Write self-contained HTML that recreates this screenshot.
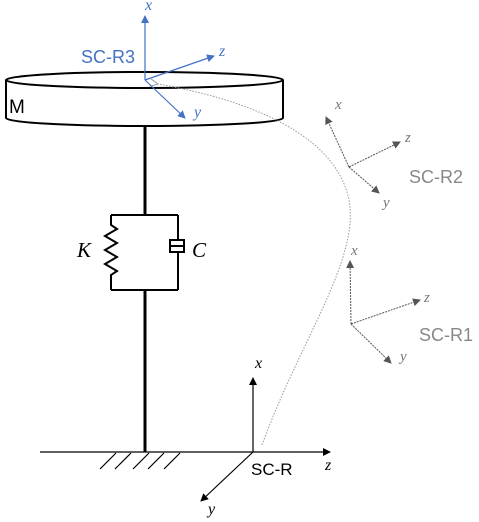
<!DOCTYPE html>
<html><head><meta charset="utf-8"><style>
html,body{margin:0;padding:0;background:#fff;}
svg{display:block;}
.it{font-family:"Liberation Serif",serif;font-style:italic;}
.sa{font-family:"Liberation Sans",sans-serif;}
</style></head><body>
<svg width="479" height="522" viewBox="0 0 479 522">
<defs>
<marker id="ab" markerWidth="8" markerHeight="8" refX="7" refY="4" orient="auto" markerUnits="userSpaceOnUse"><path d="M0,0 L8,4 L0,8 z" fill="#000"/></marker>
<marker id="abl" markerWidth="8" markerHeight="8" refX="7" refY="4" orient="auto" markerUnits="userSpaceOnUse"><path d="M0,0 L8,4 L0,8 z" fill="#4472c4"/></marker>
<marker id="ag" markerWidth="8" markerHeight="8" refX="7" refY="4" orient="auto" markerUnits="userSpaceOnUse"><path d="M0,0 L8,4 L0,8 z" fill="#555"/></marker>
<marker id="al" markerWidth="10" markerHeight="8" refX="1" refY="4" orient="auto" markerUnits="userSpaceOnUse"><path d="M9,0 L1,4 L9,8" fill="none" stroke="#999" stroke-width="1"/></marker>
</defs>
<g fill="#fff" stroke="#000" stroke-width="2">
<path d="M6,80 L6,118 A138,8 0 0 0 283,118 L283,80"/>
<ellipse cx="144.5" cy="80" rx="138.5" ry="8"/>
</g>
<text x="9" y="113" class="sa" font-size="19">M</text>
<line x1="145" y1="126" x2="145" y2="215" stroke="#000" stroke-width="3"/>
<g fill="none" stroke="#000" stroke-width="2">
<path d="M111,215 L178,215 M111,290 L178,290 M111,215 L111,225 L117,229 L105,236 L117,243 L105,250 L117,257 L105,264 L117,271 L111,275 L111,290"/>
<path d="M178,215 L178,240 M178,252 L178,290"/>
<rect x="170" y="240" width="14" height="12"/>
<line x1="170" y1="246" x2="184" y2="246"/>
</g>
<text x="77" y="257" class="it" font-size="21">K</text>
<text x="192" y="257" class="it" font-size="21">C</text>
<line x1="145" y1="290" x2="145" y2="452" stroke="#000" stroke-width="3"/>
<line x1="40" y1="452" x2="253" y2="452" stroke="#000" stroke-width="1.3"/>
<g stroke="#000" stroke-width="1.2">
<line x1="100" y1="469" x2="116" y2="453"/><line x1="115" y1="469" x2="131" y2="453"/><line x1="133" y1="469" x2="149" y2="453"/><line x1="148" y1="469" x2="164" y2="453"/><line x1="164" y1="469" x2="180" y2="453"/>
</g>
<path d="M262,445 C300,340 360,260 349,200 C336,135 250,100 158,84" fill="none" stroke="#999" stroke-width="1" stroke-dasharray="1.5,1.5" marker-end="url(#al)"/>
<g stroke="#000" stroke-width="1.2">
<line x1="253" y1="452" x2="253" y2="378" marker-end="url(#ab)"/>
<line x1="253" y1="452" x2="330" y2="452" marker-end="url(#ab)"/>
<line x1="253" y1="452" x2="201" y2="501" marker-end="url(#ab)"/>
</g>
<text x="255" y="368" class="it" font-size="16">x</text>
<text x="325" y="470" class="it" font-size="16">z</text>
<text x="208" y="514" class="it" font-size="16">y</text>
<text x="251" y="475" class="sa" font-size="17">SC-R</text>
<g stroke="#4472c4" stroke-width="1.2">
<line x1="145" y1="80" x2="145" y2="16" marker-end="url(#abl)"/>
<line x1="145" y1="80" x2="214" y2="56" marker-end="url(#abl)"/>
<line x1="145" y1="80" x2="185" y2="118" marker-end="url(#abl)"/>
</g>
<text x="145" y="10" class="it" font-size="16" fill="#4472c4">x</text>
<text x="219" y="56" class="it" font-size="16" fill="#4472c4">z</text>
<text x="194" y="117" class="it" font-size="16" fill="#4472c4">y</text>
<text x="81" y="63" class="sa" font-size="18" fill="#4472c4">SC-R3</text>
<g stroke="#555" stroke-width="1" stroke-dasharray="2,1">
<line x1="349" y1="167" x2="326" y2="117" marker-end="url(#ag)"/>
<line x1="349" y1="167" x2="400" y2="142" marker-end="url(#ag)"/>
<line x1="349" y1="167" x2="379" y2="193" marker-end="url(#ag)"/>
</g>
<text x="335" y="109" class="it" font-size="15" fill="#777">x</text>
<text x="405" y="142" class="it" font-size="15" fill="#777">z</text>
<text x="383" y="207" class="it" font-size="15" fill="#777">y</text>
<text x="409" y="183" class="sa" font-size="18" fill="#888">SC-R2</text>
<g stroke="#555" stroke-width="1" stroke-dasharray="2,1">
<line x1="351" y1="324" x2="350" y2="261" marker-end="url(#ag)"/>
<line x1="351" y1="324" x2="420" y2="300" marker-end="url(#ag)"/>
<line x1="351" y1="324" x2="391" y2="363" marker-end="url(#ag)"/>
</g>
<text x="351" y="255" class="it" font-size="15" fill="#777">x</text>
<text x="424" y="302" class="it" font-size="15" fill="#777">z</text>
<text x="400" y="361" class="it" font-size="15" fill="#777">y</text>
<text x="419" y="341" class="sa" font-size="18" fill="#888">SC-R1</text>
</svg>
</body></html>
